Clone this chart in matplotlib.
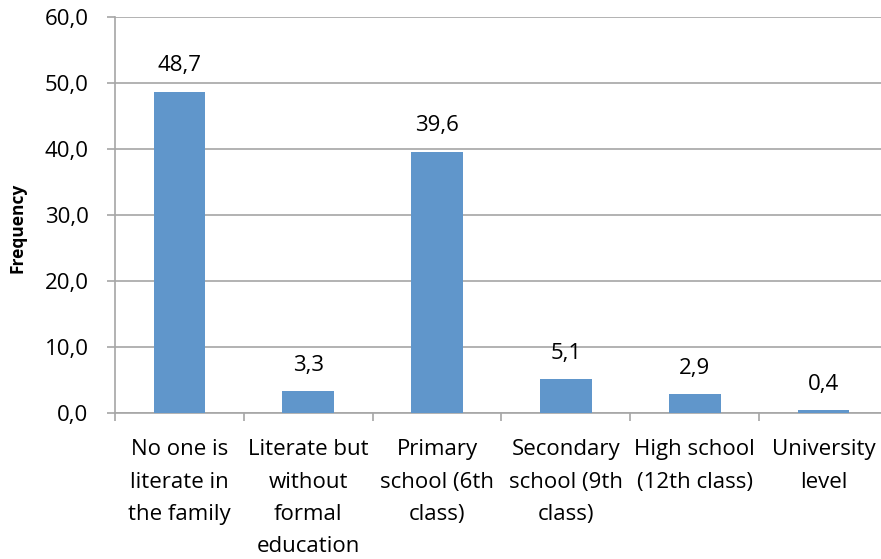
import matplotlib
matplotlib.use("Agg")
import matplotlib.pyplot as plt

categories = ["No one is\nliterate in\nthe family", "Literate but\nwithout\nformal\neducation",
              "Primary\nschool (6th\nclass)", "Secondary\nschool (9th\nclass)",
              "High school\n(12th class)", "University\nlevel"]
values = [48.7, 3.3, 39.6, 5.1, 2.9, 0.4]
yticks = [0, 10, 20, 30, 40, 50, 60]

plt.rcParams['font.family'] = ['Open Sans', 'DejaVu Sans']
W, H = 881, 559
fig = plt.figure(figsize=(W/100, H/100), dpi=100)
x0, x1 = 115, 888
y0, y1 = 413, 17
ax = fig.add_axes([x0/W, 1 - y0/H, (x1 - x0)/W, (y0 - y1)/H])

grid_c = '#a6a6a6'
fs = 16
xs = list(range(len(values)))
ax.bar(xs, values, width=0.4, color='#6096CB', zorder=3)
for x, v in zip(xs, values):
    ax.annotate(f"{v:.1f}".replace('.', ','), (x, v), xytext=(0, 11), textcoords='offset points',
                ha='center', va='bottom', fontsize=fs, color='#000000')

ax.set_xlim(-0.5, len(values) - 0.5)
ax.set_ylim(0, 60)
ax.set_yticks(yticks)
ax.set_yticklabels([f"{t:.1f}".replace('.', ',') for t in yticks], fontsize=fs)
ax.yaxis.grid(True, color=grid_c, linewidth=1.2, zorder=0)
ax.set_xticks([i - 0.5 for i in range(len(values) + 1)])
ax.set_xticklabels([])
ax.set_xticks(xs, minor=True)
ax.set_xticklabels(categories, minor=True, fontsize=fs, linespacing=1.7, va='top')
ax.tick_params(axis='x', which='minor', length=0, pad=19)
ax.tick_params(axis='x', which='major', length=6, color=grid_c, width=1.2)
ax.tick_params(axis='y', length=6, color=grid_c, width=1.2, pad=13)
for s in ['top', 'right']:
    ax.spines[s].set_visible(False)
for s in ['left', 'bottom']:
    ax.spines[s].set_color(grid_c)
    ax.spines[s].set_linewidth(1.2)
ax.set_ylabel("Frequency", fontsize=12.5, fontweight='bold')
ax.yaxis.set_label_coords(-0.115, 0.467)

fig.savefig("out.png", dpi=100)
